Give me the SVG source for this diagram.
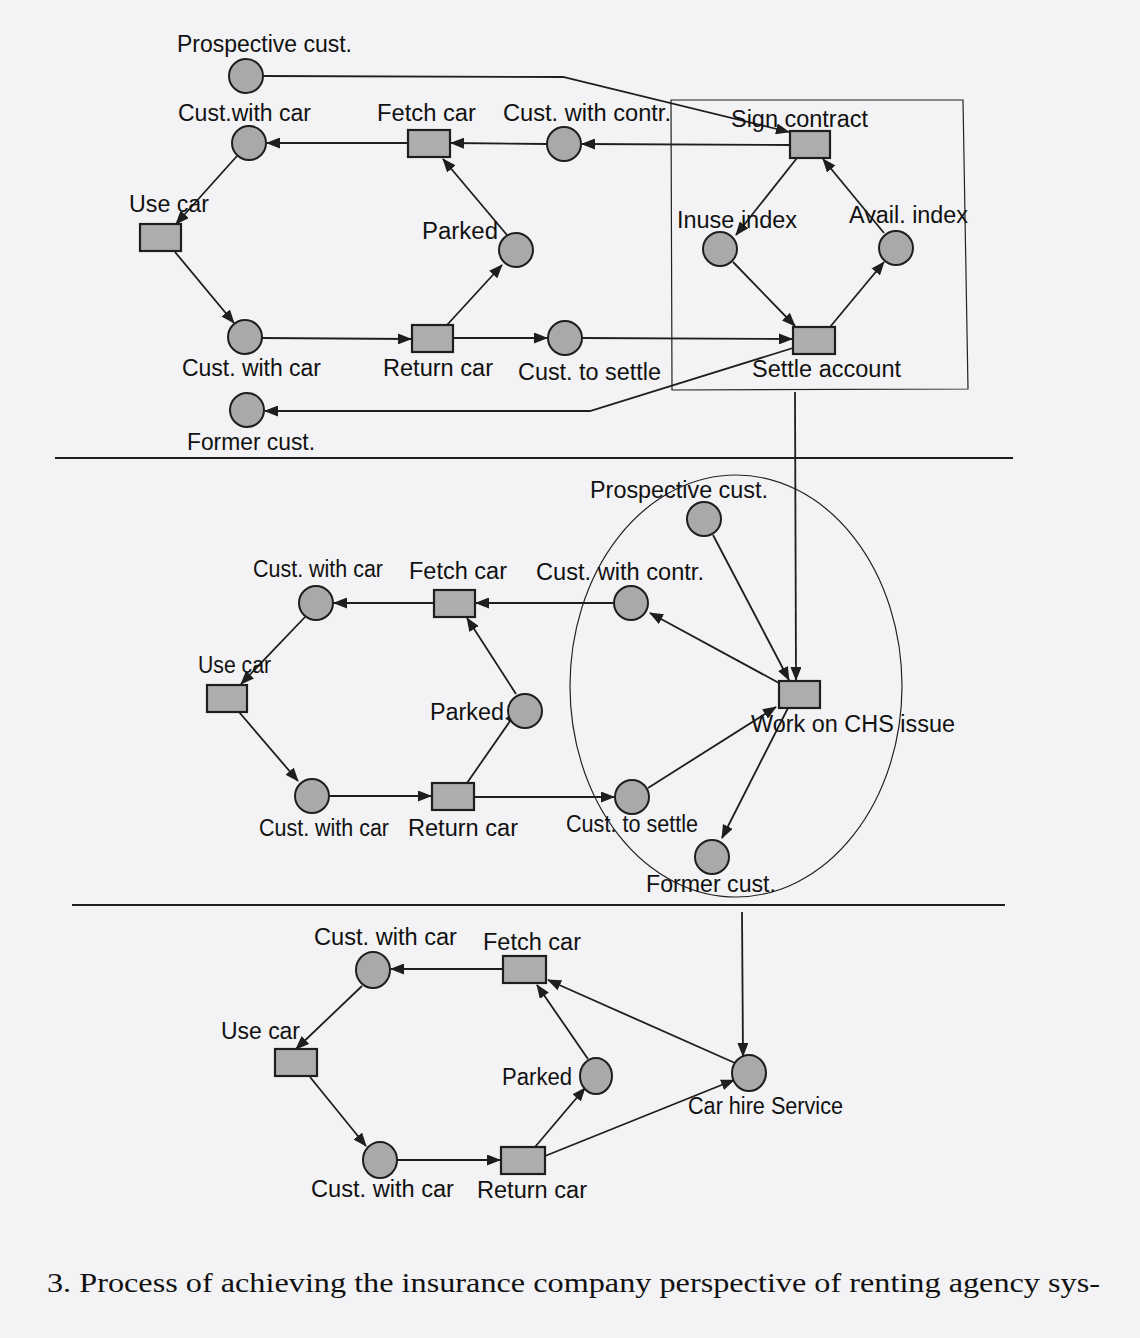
<svg xmlns="http://www.w3.org/2000/svg" width="1140" height="1338" viewBox="0 0 1140 1338">
<style>
.pl{fill:#a9a9ab;stroke:#1e1e1e;stroke-width:2}
.tr{fill:#adadaf;stroke:#1e1e1e;stroke-width:2.2}
.arc{fill:none;stroke:#1e1e1e;stroke-width:1.8}
.thin{fill:none;stroke:#222;stroke-width:1.2}
.lb{font-family:"Liberation Sans",Arial,sans-serif;font-size:23px;fill:#111}
.cap{font-family:"Liberation Serif","Times New Roman",serif;font-size:28px;fill:#111}
</style>
<defs>
<marker id="ah" markerWidth="14" markerHeight="11" refX="13" refY="5.5" orient="auto" markerUnits="userSpaceOnUse">
<path d="M0,0 L14,5.5 L0,11 z" fill="#1e1e1e"/>
</marker>
</defs>
<rect x="0" y="0" width="1140" height="1338" fill="#f3f3f5"/>

<g id="connectors">
<!-- section 1 -->
<polyline class="arc" points="263,76 563,77 789,132" marker-end="url(#ah)"/>
<line class="arc" x1="790" y1="145" x2="582" y2="144" marker-end="url(#ah)"/>
<line class="arc" x1="547" y1="144" x2="451" y2="143" marker-end="url(#ah)"/>
<line class="arc" x1="408" y1="143" x2="267" y2="143" marker-end="url(#ah)"/>
<line class="arc" x1="237" y1="156" x2="176" y2="224" marker-end="url(#ah)"/>
<line class="arc" x1="175" y1="252" x2="234" y2="323" marker-end="url(#ah)"/>
<line class="arc" x1="262" y1="338" x2="411" y2="339" marker-end="url(#ah)"/>
<line class="arc" x1="447" y1="325" x2="502" y2="265" marker-end="url(#ah)"/>
<line class="arc" x1="507" y1="235" x2="443" y2="159" marker-end="url(#ah)"/>
<line class="arc" x1="453" y1="338" x2="547" y2="338" marker-end="url(#ah)"/>
<line class="arc" x1="582" y1="338" x2="792" y2="339" marker-end="url(#ah)"/>
<polyline class="arc" points="793,348 590,411 265,411" marker-end="url(#ah)"/>
<line class="arc" x1="797" y1="158" x2="736" y2="235" marker-end="url(#ah)"/>
<line class="arc" x1="733" y1="262" x2="795" y2="326" marker-end="url(#ah)"/>
<line class="arc" x1="830" y1="327" x2="884" y2="262" marker-end="url(#ah)"/>
<line class="arc" x1="884" y1="233" x2="823" y2="159" marker-end="url(#ah)"/>
<line class="arc" x1="795" y1="392" x2="796" y2="680" marker-end="url(#ah)"/>
<!-- section 2 -->
<line class="arc" x1="614" y1="603" x2="476" y2="603" marker-end="url(#ah)"/>
<line class="arc" x1="434" y1="603" x2="334" y2="603" marker-end="url(#ah)"/>
<line class="arc" x1="305" y1="617" x2="241" y2="684" marker-end="url(#ah)"/>
<line class="arc" x1="239" y1="712" x2="298" y2="781" marker-end="url(#ah)"/>
<line class="arc" x1="330" y1="796" x2="431" y2="796" marker-end="url(#ah)"/>
<line class="arc" x1="467" y1="783" x2="517" y2="711" marker-end="url(#ah)"/>
<line class="arc" x1="516" y1="694" x2="467" y2="618" marker-end="url(#ah)"/>
<line class="arc" x1="474" y1="797" x2="614" y2="797" marker-end="url(#ah)"/>
<line class="arc" x1="779" y1="683" x2="650" y2="613" marker-end="url(#ah)"/>
<line class="arc" x1="713" y1="535" x2="789" y2="680" marker-end="url(#ah)"/>
<line class="arc" x1="648" y1="788" x2="776" y2="707" marker-end="url(#ah)"/>
<line class="arc" x1="788" y1="708" x2="722" y2="838" marker-end="url(#ah)"/>
<line class="arc" x1="742" y1="912" x2="743" y2="1056" marker-end="url(#ah)"/>
<!-- section 3 -->
<line class="arc" x1="503" y1="969" x2="391" y2="969" marker-end="url(#ah)"/>
<line class="arc" x1="362" y1="986" x2="296" y2="1049" marker-end="url(#ah)"/>
<line class="arc" x1="310" y1="1077" x2="366" y2="1146" marker-end="url(#ah)"/>
<line class="arc" x1="397" y1="1160" x2="500" y2="1160" marker-end="url(#ah)"/>
<line class="arc" x1="535" y1="1147" x2="585" y2="1088" marker-end="url(#ah)"/>
<line class="arc" x1="588" y1="1059" x2="537" y2="985" marker-end="url(#ah)"/>
<line class="arc" x1="735" y1="1063" x2="548" y2="980" marker-end="url(#ah)"/>
<line class="arc" x1="545" y1="1156" x2="734" y2="1080" marker-end="url(#ah)"/>
</g>

<g id="frames">
<path class="thin" d="M671,100 L963,100 L968,389 L672,390 Z"/>
<ellipse class="thin" cx="736" cy="686" rx="166" ry="211"/>
<line x1="55" y1="458" x2="1013" y2="458" stroke="#1e1e1e" stroke-width="1.8"/>
<line x1="72" y1="905" x2="1005" y2="905" stroke="#1e1e1e" stroke-width="1.8"/>
</g>

<!-- Section 1 nodes -->
<g id="s1-prospective"><circle class="pl" cx="246" cy="76" r="17"/><text class="lb" x="177" y="52" textLength="175" lengthAdjust="spacingAndGlyphs">Prospective cust.</text></g>
<g id="s1-custwithcar1"><circle class="pl" cx="249" cy="143" r="17"/><text class="lb" x="178" y="121" textLength="133" lengthAdjust="spacingAndGlyphs">Cust.with car</text></g>
<g id="s1-fetchcar"><rect class="tr" x="408" y="130" width="42" height="27"/><text class="lb" x="377" y="121" textLength="99" lengthAdjust="spacingAndGlyphs">Fetch car</text></g>
<g id="s1-custwithcontr"><circle class="pl" cx="564" cy="144" r="17"/><text class="lb" x="503" y="121" textLength="168" lengthAdjust="spacingAndGlyphs">Cust. with contr.</text></g>
<g id="s1-signcontract"><rect class="tr" x="790" y="131" width="40" height="27"/><text class="lb" x="731" y="127" textLength="137" lengthAdjust="spacingAndGlyphs">Sign contract</text></g>
<g id="s1-usecar"><rect class="tr" x="140" y="224" width="41" height="27"/><text class="lb" x="129" y="212" textLength="80" lengthAdjust="spacingAndGlyphs">Use car</text></g>
<g id="s1-parked"><circle class="pl" cx="516" cy="250" r="17"/><text class="lb" x="422" y="239" textLength="76" lengthAdjust="spacingAndGlyphs">Parked</text></g>
<g id="s1-inuse"><circle class="pl" cx="720" cy="249" r="17"/><text class="lb" x="677" y="228" textLength="120" lengthAdjust="spacingAndGlyphs">Inuse index</text></g>
<g id="s1-avail"><circle class="pl" cx="896" cy="248" r="17"/><text class="lb" x="849" y="223" textLength="119" lengthAdjust="spacingAndGlyphs">Avail. index</text></g>
<g id="s1-custwithcar2"><circle class="pl" cx="245" cy="337" r="17"/><text class="lb" x="182" y="376" textLength="139" lengthAdjust="spacingAndGlyphs">Cust. with car</text></g>
<g id="s1-returncar"><rect class="tr" x="412" y="325" width="41" height="27"/><text class="lb" x="383" y="376" textLength="110" lengthAdjust="spacingAndGlyphs">Return car</text></g>
<g id="s1-custtosettle"><circle class="pl" cx="565" cy="338" r="17"/><text class="lb" x="518" y="380" textLength="143" lengthAdjust="spacingAndGlyphs">Cust. to settle</text></g>
<g id="s1-settle"><rect class="tr" x="793" y="327" width="42" height="27"/><text class="lb" x="752" y="377" textLength="149" lengthAdjust="spacingAndGlyphs">Settle account</text></g>
<g id="s1-former"><circle class="pl" cx="247" cy="410" r="17"/><text class="lb" x="187" y="450" textLength="128" lengthAdjust="spacingAndGlyphs">Former cust.</text></g>

<!-- Section 2 nodes -->
<g id="s2-prospective"><circle class="pl" cx="704" cy="519" r="17"/><text class="lb" x="590" y="498" textLength="178" lengthAdjust="spacingAndGlyphs">Prospective cust.</text></g>
<g id="s2-custwithcar1"><circle class="pl" cx="316" cy="603" r="17"/><text class="lb" x="253" y="577" textLength="130" lengthAdjust="spacingAndGlyphs">Cust. with car</text></g>
<g id="s2-fetchcar"><rect class="tr" x="434" y="590" width="41" height="27"/><text class="lb" x="409" y="579" textLength="98" lengthAdjust="spacingAndGlyphs">Fetch car</text></g>
<g id="s2-custwithcontr"><circle class="pl" cx="631" cy="603" r="17"/><text class="lb" x="536" y="580" textLength="168" lengthAdjust="spacingAndGlyphs">Cust. with contr.</text></g>
<g id="s2-usecar"><rect class="tr" x="207" y="685" width="40" height="27"/><text class="lb" x="198" y="673" textLength="73" lengthAdjust="spacingAndGlyphs">Use car</text></g>
<g id="s2-parked"><circle class="pl" cx="525" cy="711" r="17"/><text class="lb" x="430" y="720" textLength="74" lengthAdjust="spacingAndGlyphs">Parked</text></g>
<g id="s2-work"><rect class="tr" x="779" y="681" width="41" height="27"/><text class="lb" x="751" y="732" textLength="204" lengthAdjust="spacingAndGlyphs">Work on CHS issue</text></g>
<g id="s2-custwithcar2"><circle class="pl" cx="312" cy="796" r="17"/><text class="lb" x="259" y="836" textLength="130" lengthAdjust="spacingAndGlyphs">Cust. with car</text></g>
<g id="s2-returncar"><rect class="tr" x="432" y="783" width="42" height="27"/><text class="lb" x="408" y="836" textLength="110" lengthAdjust="spacingAndGlyphs">Return car</text></g>
<g id="s2-custtosettle"><circle class="pl" cx="632" cy="797" r="17"/><text class="lb" x="566" y="832" textLength="132" lengthAdjust="spacingAndGlyphs">Cust. to settle</text></g>
<g id="s2-former"><circle class="pl" cx="712" cy="857" r="17"/><text class="lb" x="646" y="892" textLength="130" lengthAdjust="spacingAndGlyphs">Former cust.</text></g>

<!-- Section 3 nodes -->
<g id="s3-custwithcar1"><ellipse class="pl" cx="373" cy="970" rx="17" ry="18"/><text class="lb" x="314" y="945" textLength="143" lengthAdjust="spacingAndGlyphs">Cust. with car</text></g>
<g id="s3-fetchcar"><rect class="tr" x="503" y="956" width="43" height="27"/><text class="lb" x="483" y="950" textLength="98" lengthAdjust="spacingAndGlyphs">Fetch car</text></g>
<g id="s3-usecar"><rect class="tr" x="275" y="1049" width="42" height="27"/><text class="lb" x="221" y="1039" textLength="79" lengthAdjust="spacingAndGlyphs">Use car</text></g>
<g id="s3-parked"><ellipse class="pl" cx="596" cy="1076" rx="16" ry="18"/><text class="lb" x="502" y="1085" textLength="70" lengthAdjust="spacingAndGlyphs">Parked</text></g>
<g id="s3-carhire"><ellipse class="pl" cx="749" cy="1073" rx="17" ry="18"/><text class="lb" x="688" y="1114" textLength="155" lengthAdjust="spacingAndGlyphs">Car hire Service</text></g>
<g id="s3-custwithcar2"><ellipse class="pl" cx="380" cy="1160" rx="17" ry="18"/><text class="lb" x="311" y="1197" textLength="143" lengthAdjust="spacingAndGlyphs">Cust. with car</text></g>
<g id="s3-returncar"><rect class="tr" x="501" y="1147" width="44" height="27"/><text class="lb" x="477" y="1198" textLength="110" lengthAdjust="spacingAndGlyphs">Return car</text></g>

<text class="cap" x="47" y="1292" textLength="1053" lengthAdjust="spacingAndGlyphs">3. Process of achieving the insurance company perspective of renting agency sys-</text>
</svg>
